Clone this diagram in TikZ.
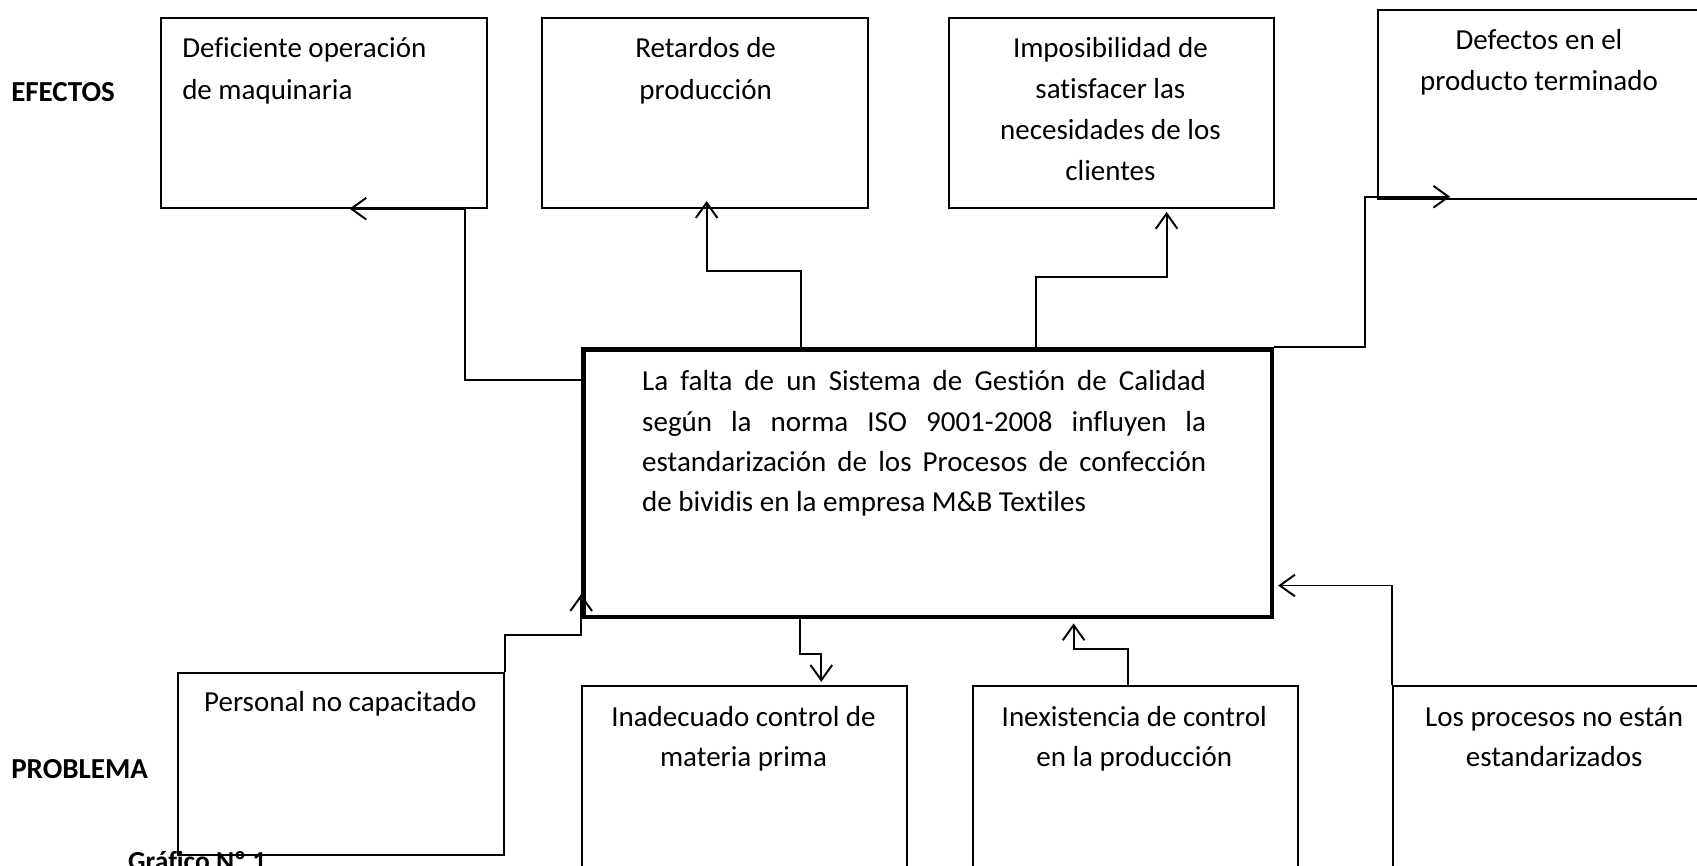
\documentclass[tikz,border=0pt]{standalone}
\usepackage{fontspec}
\setmainfont{Carlito}[Ligatures=NoCommon]
\usetikzlibrary{arrows.meta}
\begin{document}
\begin{tikzpicture}[x=0.5pt,y=-0.5pt,
  box/.style={draw, line width=0.9pt, rectangle, anchor=north west, inner sep=0pt},
  mainbox/.style={draw, line width=2pt, rectangle, anchor=north west, inner sep=0pt},
  conn/.style={line width=0.9pt, -{Straight Barb[length=7pt,width=10pt]}},
  txt/.style={inner sep=0pt, anchor=base, align=center, font=\fontsize{13.4pt}{19.25pt}\selectfont},
  lbl/.style={inner sep=0pt, anchor=base west, font=\fontsize{13.4pt}{16pt}\selectfont\bfseries},
]
\useasboundingbox (0,0) rectangle (1568,800);

% labels
\node[lbl] (lef) at (10,93.5) {EFECTOS};
\node[lbl] (lpr) at (10,719.5) {PROBLEMA};
\node[lbl, font=\fontsize{12.7pt}{15pt}\selectfont\bfseries] (lgr) at (118,804) {Gráfico Nº 1};

% effect boxes
\node[box, minimum width=150.5pt, minimum height=87.5pt] (b1) at (148,16) {};
\node[box, minimum width=150.5pt, minimum height=87.5pt] (b2) at (500,16) {};
\node[box, minimum width=150pt, minimum height=87.5pt] (b3) at (876,16) {};
\node[box, minimum width=150pt, minimum height=87.5pt] (b4) at (1272,8) {};

% central box
\node[mainbox, minimum width=318pt, minimum height=123.5pt] (c) at (537,321) {};

% problem boxes
\node[box, minimum width=150.5pt, minimum height=84pt] (p1) at (164,621) {};
\node[box, minimum width=150pt, minimum height=100pt] (p2) at (537,633) {};
\node[box, minimum width=150pt, minimum height=100pt] (p3) at (898,633) {};
\node[box, minimum width=150pt, minimum height=100pt] (p4) at (1286,633) {};

% texts (anchor base = baseline of the last line)
\node[txt, anchor=base west, align=left] (t1) at (168,92) {Deficiente operación\\de maquinaria};
\node[txt] (t2) at (652,92) {Retardos de\\producción};
\node[txt, font=\fontsize{13.4pt}{19pt}\selectfont] (t3) at (1026,167) {Imposibilidad de\\satisfacer las\\necesidades de los\\clientes};
\node[txt] (t4) at (1422,84) {Defectos en el\\producto terminado};
\node[txt, anchor=base west, align=justify, text width=260.5pt, font=\fontsize{13.4pt}{18.65pt}\selectfont] (tc) at (593,361)
  {La falta de un Sistema de Gestión de Calidad\linebreak según la norma ISO 9001-2008 influyen la\linebreak estandarización de los Procesos de confección\linebreak de bividis en la empresa M\&B Textiles};
\node[txt] (tp1) at (314.5,657) {Personal no capacitado};
\node[txt, font=\fontsize{13.4pt}{18.5pt}\selectfont] (tp2) at (687,708) {Inadecuado control de\\materia prima};
\node[txt, font=\fontsize{13.4pt}{18.5pt}\selectfont] (tp3) at (1048,708) {Inexistencia de control\\en la producción};
\node[txt, font=\fontsize{13.4pt}{18.5pt}\selectfont] (tp4) at (1436,708) {Los procesos no están\\estandarizados};

% connectors: effects
\draw[conn] ([yshift=-15pt]c.north west) -| ([xshift=-10.5pt]b1.south east) -- ([xshift=11.75pt]b1.south);
\draw[conn] ([xshift=-58.5pt]c.north) -- ++(0,-71) -| ([xshift=0.75pt,yshift=3.5pt]b2.south);
\draw[conn] ([xshift=50pt]c.north) -- ++(0,-65) -| ([xshift=25.5pt,yshift=-1.5pt]b3.south);
\draw[conn] (c.north east) -- ++(84,0) |- ([xshift=34pt,yshift=1.5pt]b4.south west);

% connectors: problems
\draw[conn] (p1.north east) -- ++(0,-34) -| ([yshift=11.5pt]c.south west);
\draw[conn] ([xshift=-59pt]c.south) -- ++(0,32) -| ([xshift=35.5pt,yshift=1.5pt]p2.north);
\draw[conn] ([xshift=-3.5pt]p3.north) -- ++(0,-33) -| ([xshift=67.5pt,yshift=-2pt]c.south);
\draw[conn] (p4.north west) |- ([xshift=2pt,yshift=-47.25pt]c.east);
\end{tikzpicture}
\end{document}
